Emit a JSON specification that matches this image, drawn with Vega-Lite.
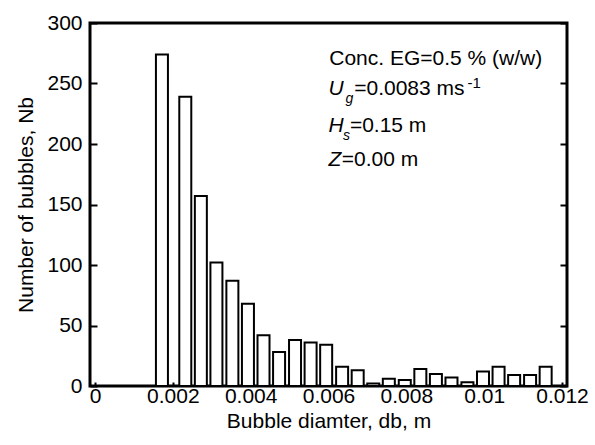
{
  "$schema": "https://vega.github.io/schema/vega-lite/v6.json",
  "autosize": {"type": "none"},
  "padding": {"left": 90, "top": 23, "right": 28, "bottom": 59},
  "width": 477,
  "height": 363,
  "background": "white",
  "config": {
    "font": "Liberation Sans",
    "view": {"stroke": "black", "strokeWidth": 3},
    "axis": {"grid": false, "domain": false, "labelColor": "black", "titleColor": "black", "tickColor": "black", "tickWidth": 2, "labelFontSize": 21, "titleFontSize": 21, "titleFontWeight": "normal", "labelFont": "Liberation Sans", "titleFont": "Liberation Sans"}
  },
  "datasets": {
    "bars": [
      {"d": 0.00172, "n": 274},
      {"d": 0.00232, "n": 239},
      {"d": 0.00272, "n": 157},
      {"d": 0.00312, "n": 102},
      {"d": 0.00353, "n": 87},
      {"d": 0.00393, "n": 68},
      {"d": 0.00433, "n": 42},
      {"d": 0.00473, "n": 28},
      {"d": 0.00514, "n": 38},
      {"d": 0.00554, "n": 36},
      {"d": 0.00594, "n": 34},
      {"d": 0.00635, "n": 16},
      {"d": 0.00675, "n": 13},
      {"d": 0.00715, "n": 2},
      {"d": 0.00755, "n": 6},
      {"d": 0.00796, "n": 5},
      {"d": 0.00836, "n": 14},
      {"d": 0.00876, "n": 10},
      {"d": 0.00916, "n": 7},
      {"d": 0.00957, "n": 3},
      {"d": 0.00997, "n": 12},
      {"d": 0.01037, "n": 16},
      {"d": 0.01077, "n": 9},
      {"d": 0.01118, "n": 9},
      {"d": 0.01158, "n": 16}
    ],
    "annNormal": [
      {"x": 0.00602, "y": 265.6, "t": "Conc. EG=0.5 % (w/w)"},
      {"x": 0.00666, "y": 240.9, "t": "=0.0083 ms"},
      {"x": 0.00655, "y": 210.3, "t": "=0.15 m"},
      {"x": 0.00634, "y": 182.2, "t": "=0.00 m"}
    ],
    "annItalic": [
      {"x": 0.006, "y": 240.9, "t": "U"},
      {"x": 0.006, "y": 210.3, "t": "H"},
      {"x": 0.006, "y": 182.2, "t": "Z"}
    ],
    "annSub": [
      {"x": 0.00644, "y": 233.5, "t": "g"},
      {"x": 0.00637, "y": 202.9, "t": "s"}
    ],
    "annSup": [
      {"x": 0.00957, "y": 246, "t": "-1"}
    ]
  },
  "resolve": {"scale": {"y": "independent"}, "axis": {"y": "independent"}},
  "layer": [
    {
      "data": {"name": "bars"},
      "mark": {"type": "bar", "fill": "white", "stroke": "black", "strokeWidth": 2, "size": 12},
      "encoding": {
        "x": {"field": "d", "type": "quantitative", "scale": {"domain": [0, 0.012], "nice": false},
          "axis": {"values": [0, 0.002, 0.004, 0.006, 0.008, 0.01, 0.012], "format": "~g", "tickSize": -4, "labelPadding": 3, "title": "Bubble diamter,  db, m", "titlePadding": 4}},
        "y": {"field": "n", "type": "quantitative", "scale": {"domain": [0, 300], "nice": false},
          "axis": {"values": [0, 50, 100, 150, 200, 250, 300], "tickSize": -7, "labelPadding": 15, "title": "Number of bubbles,  Nb", "titlePadding": 10}}
      }
    },
    {
      "data": {"name": "bars"},
      "mark": {"type": "tick", "opacity": 0},
      "encoding": {
        "x": {"field": "d", "type": "quantitative"},
        "y": {"field": "n", "type": "quantitative", "scale": {"domain": [0, 300], "nice": false},
          "axis": {"orient": "right", "values": [0, 50, 100, 150, 200, 250, 300], "labels": false, "ticks": true, "tickSize": -7, "title": null, "zindex": 2}}
      }
    },
    {
      "data": {"name": "annNormal"},
      "mark": {"type": "text", "align": "left", "baseline": "alphabetic", "fontSize": 21, "color": "black"},
      "encoding": {
        "x": {"field": "x", "type": "quantitative"},
        "y": {"field": "y", "type": "quantitative", "scale": {"domain": [0, 300], "nice": false}, "axis": null},
        "text": {"field": "t"}
      }
    },
    {
      "data": {"name": "annItalic"},
      "mark": {"type": "text", "align": "left", "baseline": "alphabetic", "fontSize": 21, "fontStyle": "italic", "color": "black"},
      "encoding": {
        "x": {"field": "x", "type": "quantitative"},
        "y": {"field": "y", "type": "quantitative", "scale": {"domain": [0, 300], "nice": false}, "axis": null},
        "text": {"field": "t"}
      }
    },
    {
      "data": {"name": "annSub"},
      "mark": {"type": "text", "align": "left", "baseline": "alphabetic", "fontSize": 14, "fontStyle": "italic", "color": "black"},
      "encoding": {
        "x": {"field": "x", "type": "quantitative"},
        "y": {"field": "y", "type": "quantitative", "scale": {"domain": [0, 300], "nice": false}, "axis": null},
        "text": {"field": "t"}
      }
    },
    {
      "data": {"name": "annSup"},
      "mark": {"type": "text", "align": "left", "baseline": "alphabetic", "fontSize": 15, "color": "black"},
      "encoding": {
        "x": {"field": "x", "type": "quantitative"},
        "y": {"field": "y", "type": "quantitative", "scale": {"domain": [0, 300], "nice": false}, "axis": null},
        "text": {"field": "t"}
      }
    }
  ]
}
